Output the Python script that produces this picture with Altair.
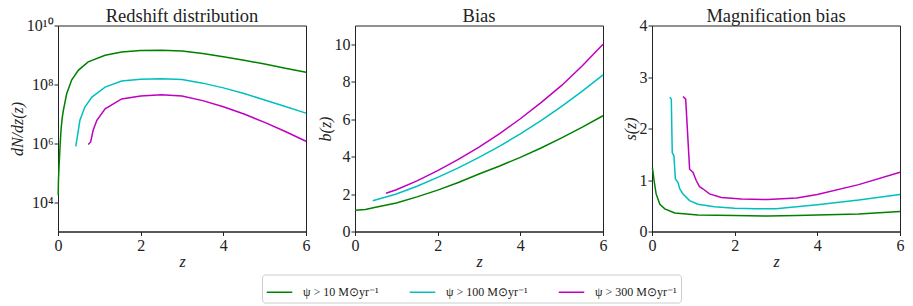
import altair as alt
import pandas as pd

SERIES = ["ψ > 10 M⊙yr⁻¹", "ψ > 100 M⊙yr⁻¹", "ψ > 300 M⊙yr⁻¹"]
COLORS = ["#008000", "#00bfbf", "#bf00bf"]
TITLES = ["Redshift distribution", "Bias", "Magnification bias"]

# Panel 1: dN/dz(z)
dn_z_10 = [0.005, 0.01, 0.024, 0.05, 0.073, 0.1, 0.13, 0.21, 0.33, 0.49, 0.73, 1.14, 1.54, 2.0, 2.5, 3.0, 3.5, 4.0, 4.5, 5.0, 5.5, 6.0]
dn_v_10 = [1.7e4, 5e4, 1.5e5, 8e5, 2.8e6, 7e6, 1.3e7, 4.8e7, 1.4e8, 3.0e8, 5.8e8, 9.8e8, 1.26e9, 1.41e9, 1.45e9, 1.35e9, 1.12e9, 8.7e8, 6.6e8, 4.9e8, 3.5e8, 2.6e8]
dn_z_100 = [0.43, 0.48, 0.53, 0.65, 0.82, 1.14, 1.54, 2.0, 2.5, 3.0, 3.5, 4.0, 4.5, 5.0, 5.5, 6.0]
dn_v_100 = [7.8e5, 2.1e6, 6.0e6, 1.7e7, 3.7e7, 8.1e7, 1.29e8, 1.48e8, 1.55e8, 1.45e8, 1.1e8, 7.6e7, 4.9e7, 2.95e7, 1.78e7, 1.05e7]
dn_z_300 = [0.73, 0.79, 0.85, 0.94, 1.14, 1.54, 2.0, 2.5, 3.0, 3.5, 4.0, 4.5, 5.0, 5.5, 6.0]
dn_v_300 = [9.1e5, 1.1e6, 2.75e6, 6.0e6, 1.48e7, 3.2e7, 4.0e7, 4.4e7, 4.0e7, 2.8e7, 1.74e7, 9.8e6, 5.1e6, 2.5e6, 1.17e6]

# Panel 2: b(z)
b_z_10 = [0.0, 0.25, 0.5, 1.0, 1.5, 2.0, 2.5, 3.0, 3.5, 4.0, 4.5, 5.0, 5.5, 6.0]
b_v_10 = [1.14, 1.18, 1.29, 1.52, 1.85, 2.21, 2.62, 3.07, 3.5, 3.96, 4.46, 5.0, 5.57, 6.18]
b_z_100 = [0.43, 1.0, 1.5, 2.0, 2.5, 3.0, 3.5, 4.0, 4.5, 5.0, 5.5, 6.0]
b_v_100 = [1.64, 2.0, 2.42, 2.89, 3.4, 3.96, 4.56, 5.21, 5.92, 6.68, 7.5, 8.36]
b_z_300 = [0.75, 1.0, 1.5, 2.0, 2.5, 3.0, 3.5, 4.0, 4.5, 5.0, 5.5, 6.0]
b_v_300 = [2.04, 2.23, 2.7, 3.25, 3.85, 4.5, 5.23, 6.02, 6.88, 7.8, 8.85, 10.0]

# Panel 3: s(z)
s_z_10 = [0.01, 0.05, 0.10, 0.19, 0.31, 0.55, 1.11, 2.0, 2.8, 3.5, 4.0, 5.0, 6.0]
s_v_10 = [1.24, 0.99, 0.73, 0.53, 0.44, 0.36, 0.32, 0.31, 0.30, 0.31, 0.32, 0.34, 0.39]
s_z_100 = [0.43, 0.467, 0.49, 0.53, 0.566, 0.63, 0.67, 0.75, 0.91, 1.11, 1.51, 2.0, 2.5, 3.0, 4.0, 5.0, 6.0]
s_v_100 = [2.61, 2.57, 1.53, 1.47, 1.02, 0.95, 0.83, 0.73, 0.60, 0.53, 0.48, 0.45, 0.44, 0.44, 0.52, 0.61, 0.72]
s_z_300 = [0.75, 0.815, 0.91, 0.99, 1.07, 1.15, 1.23, 1.39, 1.68, 2.16, 2.8, 3.5, 4.0, 5.0, 6.0]
s_v_300 = [2.62, 2.57, 1.21, 1.15, 0.99, 0.87, 0.83, 0.73, 0.66, 0.63, 0.62, 0.65, 0.72, 0.91, 1.15]


def frame(zs, vs):
    rows = []
    for name, z, v in zip(SERIES, zs, vs):
        for zi, vi in zip(z, v):
            rows.append({"z": zi, "v": vi, "series": name})
    return pd.DataFrame(rows)


df1 = frame([dn_z_10, dn_z_100, dn_z_300], [dn_v_10, dn_v_100, dn_v_300])
df2 = frame([b_z_10, b_z_100, b_z_300], [b_v_10, b_v_100, b_v_300])
df3 = frame([s_z_10, s_z_100, s_z_300], [s_v_10, s_v_100, s_v_300])

FONT = "Liberation Serif"
W, H = 248, 206

xenc = alt.X("z:Q", scale=alt.Scale(domain=[0, 6], nice=False, zero=False),
             axis=alt.Axis(values=[0, 2, 4, 6], title="z", titleFontStyle="italic"))

color = alt.Color("series:N", scale=alt.Scale(domain=SERIES, range=COLORS),
                  legend=alt.Legend(title=None, orient="none", direction="horizontal",
                                    legendX=204, legendY=249,
                                    symbolType="stroke", symbolSize=650, symbolStrokeWidth=1.5,
                                    labelFont=FONT, labelFontSize=12, labelColor="#222",
                                    columnPadding=27, labelOffset=10,
                                    strokeColor="#cccccc", fillColor="white",
                                    padding=4, cornerRadius=3))

sup = "['⁰','¹','²','³','⁴','⁵','⁶','⁷','⁸','⁹','¹⁰'][round(log(datum.value)/LN10)]"


def title_layer(text):
    return alt.Chart(pd.DataFrame({"t": [text]})).mark_text(
        font=FONT, fontSize=18.5, baseline="alphabetic", align="center", color="#222"
    ).encode(x=alt.value(W / 2), y=alt.value(-3.5), text="t:N")


l1 = alt.Chart(df1).mark_line(strokeWidth=1.5).encode(
    x=xenc,
    y=alt.Y("v:Q", scale=alt.Scale(type="log", domain=[1e3, 1e10], nice=False),
            axis=alt.Axis(values=[1e4, 1e6, 1e8, 1e10], title="dN/dz(z)", titleFontStyle="italic",
                          labelExpr="'10' + " + sup)),
    color=color,
)

l2 = alt.Chart(df2).mark_line(strokeWidth=1.5).encode(
    x=xenc,
    y=alt.Y("v:Q", scale=alt.Scale(domain=[0, 11], nice=False),
            axis=alt.Axis(values=[0, 2, 4, 6, 8, 10], title="b(z)", titleFontStyle="italic")),
    color=color,
)

l3 = alt.Chart(df3).mark_line(strokeWidth=1.5).encode(
    x=xenc,
    y=alt.Y("v:Q", scale=alt.Scale(domain=[0, 4], nice=False),
            axis=alt.Axis(values=[0, 1, 2, 3, 4], title="s(z)", titleFontStyle="italic")),
    color=color,
)

p1 = alt.layer(l1, title_layer(TITLES[0])).properties(width=W, height=H)
p2 = alt.layer(l2, title_layer(TITLES[1])).properties(width=W, height=H)
p3 = alt.layer(l3, title_layer(TITLES[2])).properties(width=W, height=H)

chart = alt.hconcat(p1, p2, p3, spacing=49, bounds="flush").properties(
    padding={"left": 0, "top": -1.5, "right": 0, "bottom": 0},
).configure_view(stroke="#222", strokeWidth=1).configure_axis(
    grid=False, labelFont=FONT, titleFont=FONT, labelFontSize=16, titleFontSize=16,
    labelColor="#222", titleColor="#222", tickColor="#222", domainColor="#222",
    tickSize=4, labelPadding=1, titleFontWeight="normal", domainWidth=1,
).configure_axisX(titlePadding=0, labelPadding=2, labelFlush=False).configure_axisY(
    titlePadding=1, labelFlush=False
)

chart.save("out.html", embed_options={"renderer": "svg", "actions": False})
